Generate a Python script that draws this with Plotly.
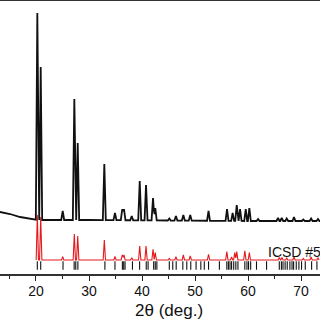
import numpy as np
import plotly.graph_objects as go

# ---- data ----
# experimental pattern: peak positions (2theta) and peak-top intensities (a.u., offset)
exp_pos = [20.25, 20.89, 25.04, 27.23, 27.87, 32.89, 34.9, 36.28, 36.6, 38.06, 39.57, 40.76,
           42.08, 42.5, 45.15, 46.4, 47.8, 49.1, 52.55, 56.04, 57.1, 57.87, 58.5, 59.57, 60.25,
           61.9, 65.66, 66.36, 67.3, 68.67, 70.43, 71.9, 73.2]
exp_top = [247, 193, 49, 161, 117, 96, 47, 51, 51, 44, 79, 75,
           62, 52, 41.5, 44, 45, 45, 49, 51, 47, 55, 51, 51, 52,
           41, 42, 42, 41.5, 43, 40.5, 41.5, 41]
# experimental background
bg_x = [13.2, 15.1, 17.0, 18.9, 20.5, 30.0, 45.0, 60.0, 73.6]
bg_y = [48, 46, 43, 41, 40, 40, 39.5, 39, 39]

# reference (ICSD) simulated pattern
ref_pos = [20.25, 20.89, 25.04, 27.23, 27.87, 32.89, 34.9, 36.28, 36.6, 38.06, 39.57, 40.76,
           42.08, 42.5, 45.15, 46.4, 47.8, 49.1, 52.55, 56.0, 56.9, 57.5, 57.87, 59.4, 60.25,
           65.9, 66.4, 67.3, 68.67, 70.43, 71.9, 73.2]
ref_int = [45, 43, 3.3, 26, 24, 20, 3.5, 5, 5, 2.3, 14, 14,
           10.7, 7.3, 1.5, 3.3, 5, 4, 5.7, 8.3, 3, 7.3, 8.3, 9.3, 7.3,
           2.5, 2.5, 2, 3, 1.5, 3, 2]

# reflection positions (tick marks)
refl_pos = [20.25, 20.89, 25.1, 27.2, 27.5, 27.9, 33.0, 34.9, 36.3, 36.55, 36.8, 38.2, 39.55,
            40.8, 41.15, 42.2, 42.5, 42.8, 45.15, 45.8, 46.45, 47.7, 48.45, 49.2, 50.2, 51.1,
            51.75, 52.55, 54.6, 56.0, 56.3, 56.6, 56.9, 57.3, 57.7, 58.1, 59.4, 59.8, 60.1,
            60.5, 61.6, 63.5, 65.9, 66.3, 66.6, 67.0, 67.4, 67.9, 68.3, 68.6, 69.1, 69.6,
            70.1, 70.8, 72.0, 73.0]

x_ticks = [20, 30, 40, 50, 60, 70]
x_range = [13.21, 73.58]

FONT = "Liberation Sans, Arial"


def profile(pos, top, base_x, base_y, hw):
    pos = np.asarray(pos, float)
    top = np.asarray(top, float)
    nodes = set(base_x)
    for p in pos:
        nodes.update([p - hw, p, p + hw])
    xs = np.array(sorted(n for n in nodes if x_range[0] - 1 <= n <= x_range[1] + 1))
    base = np.interp(xs, base_x, base_y)
    heights = top - np.interp(pos, base_x, base_y)
    ys = base.copy()
    for p, h in zip(pos, heights):
        ys += np.clip(h * (1 - np.abs(xs - p) / hw), 0, None)
    return xs, ys


ex, ey = profile(exp_pos, exp_top, bg_x, bg_y, 0.28)
rx, ry = profile(ref_pos, ref_int, [10, 80], [0, 0], 0.22)

fig = go.Figure()
fig.add_trace(go.Scatter(x=rx, y=ry, mode="lines", line=dict(color="#e3191c", width=1.1),
                         hoverinfo="skip"))
fig.add_trace(go.Scatter(x=ex, y=ey, mode="lines", line=dict(color="#111111", width=1.8),
                         hoverinfo="skip"))
fig.add_trace(go.Scatter(x=refl_pos, y=[-5.5] * len(refl_pos), mode="markers",
                         marker=dict(symbol="line-ns-open", size=6, color="#111111",
                                     line=dict(color="#111111", width=1.1)),
                         hoverinfo="skip"))

fig.add_annotation(x=63.3, y=8, xref="x", yref="y", text="ICSD #5", showarrow=False,
                   xanchor="left", yanchor="middle",
                   font=dict(family=FONT, size=14, color="#111111"))
fig.add_annotation(x=45.1, y=-0.132, xref="x", yref="paper", text="2θ (deg.)",
                   showarrow=False, xanchor="center", yanchor="middle",
                   font=dict(family=FONT, size=17, color="#111111"))

fig.update_layout(
    width=320, height=320,
    margin=dict(l=0, r=0, t=1, b=46, pad=0),
    paper_bgcolor="white", plot_bgcolor="white",
    showlegend=False,
    xaxis=dict(range=x_range, tickvals=x_ticks, ticks="outside", ticklen=5, tickwidth=1.2,
               tickcolor="#222222", showline=True, linecolor="#333333", linewidth=1.5,
               mirror=True, showgrid=False, zeroline=False, ticklabelstandoff=-2,
               tickfont=dict(family=FONT, size=14, color="#111111"),
               minor=dict(tickvals=[15, 25, 35, 45, 55, 65, 75], ticks="outside", ticklen=3,
                          tickcolor="#222222", tickwidth=1.2)),
    yaxis=dict(range=[-14, 259], visible=False, showgrid=False, zeroline=False),
)

fig.write_html("out.html", config={"displayModeBar": False},
               post_script="document.body.style.margin='0';")
